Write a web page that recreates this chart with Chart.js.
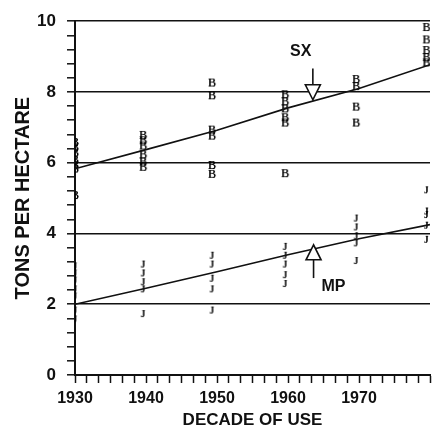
<!DOCTYPE html>
<html>
<head>
<meta charset="utf-8">
<script src="https://cdn.jsdelivr.net/npm/chart.js@4/dist/chart.umd.min.js"></script>
<style>
  html, body { margin: 0; padding: 0; background: #fff; overflow: hidden; }
</style>
</head>
<body>
<canvas id="chart" width="436" height="429"></canvas>
<script>
// SX observations (plotted as "B")
const sxYears  = [1930, 1930, 1930, 1930, 1930, 1930, 1930,
                  1939.6, 1939.6, 1939.6, 1939.6, 1939.6, 1939.6,
                  1949.3, 1949.3, 1949.3, 1949.3, 1949.3, 1949.3,
                  1959.6, 1959.6, 1959.6, 1959.6, 1959.6, 1959.6,
                  1969.6, 1969.6, 1969.6, 1969.6,
                  1979.5, 1979.5, 1979.5, 1979.5, 1979.5];
const sxValues = [6.6, 6.45, 6.3, 6.1, 5.95, 5.85, 5.1,
                  6.8, 6.65, 6.5, 6.25, 6.05, 5.9,
                  8.28, 7.92, 6.95, 6.78, 5.95, 5.7,
                  7.95, 7.75, 7.55, 7.3, 7.15, 5.72,
                  8.38, 8.18, 7.6, 7.15,
                  9.85, 9.5, 9.2, 9.0, 8.85];

// MP observations (plotted as "J")
const mpYears  = [1930, 1930, 1930, 1930, 1930, 1930, 1930,
                  1939.6, 1939.6, 1939.6, 1939.6, 1939.6,
                  1949.3, 1949.3, 1949.3, 1949.3, 1949.3,
                  1959.6, 1959.6, 1959.6, 1959.6, 1959.6,
                  1969.6, 1969.6, 1969.6, 1969.6, 1969.6,
                  1979.5, 1979.5, 1979.5, 1979.5, 1979.5];
const mpValues = [3.1, 2.9, 2.7, 2.45, 2.25, 1.85, 1.6,
                  3.15, 2.9, 2.65, 2.45, 1.75,
                  3.4, 3.15, 2.75, 2.45, 1.85,
                  3.65, 3.4, 3.15, 2.85, 2.6,
                  4.45, 4.2, 3.95, 3.75, 3.25,
                  5.25, 4.65, 4.55, 4.25, 3.85];

// fitted trend lines
const trendYears = [1930, 1940, 1950, 1960, 1970, 1980];
const sxTrend    = [5.83, 6.37, 6.92, 7.55, 8.1, 8.77];
const mpTrend    = [2.0, 2.45, 2.92, 3.4, 3.85, 4.25];

// arrow annotations
const arrowLabels = ["SX", "MP"];
const arrowYears  = [1963.5, 1963.6];
const arrowTips   = [7.78, 3.68];
const arrowTails  = [8.66, 2.74];
const labelYears  = [1961.8, 1966.4];
const labelValues = [9.13, 2.49];

const decadeLabels = [1930, 1940, 1950, 1960, 1970];
const evenLines = [0, 2, 4, 6, 8, 10];

// letter markers
function letterMarker(ch, font, w, h) {
    const c = document.createElement("canvas");
    c.width = w;
    c.height = h;
    const g = c.getContext("2d");
    g.fillStyle = "#000";
    g.font = font;
    g.textAlign = "center";
    g.textBaseline = "middle";
    g.fillText(ch, w / 2, h / 2 + 1);
    g.fillText(ch, w / 2, h / 2 + 1);
    return c;
}
const markB = letterMarker("B", '12px "Liberation Serif"', 10, 13);
const markJ = letterMarker("J", '11px "Liberation Serif"', 7, 12);

const toPoints = (xs, ys) => xs.map((x, i) => ({ x: x, y: ys[i] }));

// draws the SX / MP arrows and their labels
const arrowPlugin = {
    id: "arrows",
    afterDatasetsDraw(chart) {
        const { ctx, scales: { x, y } } = chart;
        ctx.save();
        ctx.strokeStyle = "#111";
        ctx.lineWidth = 1.6;
        arrowLabels.forEach((lab, i) => {
            const px = x.getPixelForValue(arrowYears[i]);
            const tip = y.getPixelForValue(arrowTips[i]);
            const tail = y.getPixelForValue(arrowTails[i]);
            const dir = tail < tip ? -1 : 1;
            const base = tip + dir * 15;
            ctx.beginPath();
            ctx.moveTo(px, tail);
            ctx.lineTo(px, base);
            ctx.stroke();
            ctx.beginPath();
            ctx.moveTo(px, tip);
            ctx.lineTo(px - 7.5, base);
            ctx.lineTo(px + 7.5, base);
            ctx.closePath();
            ctx.fillStyle = "#fff";
            ctx.fill();
            ctx.stroke();

            ctx.fillStyle = "#111";
            ctx.font = 'bold 16px "Liberation Sans", Arial, sans-serif';
            ctx.textAlign = "center";
            ctx.textBaseline = "middle";
            ctx.fillText(lab, x.getPixelForValue(labelYears[i]), y.getPixelForValue(labelValues[i]));
        });
        ctx.restore();
    }
};

const isEven = v => evenLines.some(e => Math.abs(e - v) < 1e-6);
const isDecade = v => decadeLabels.some(d => Math.abs(d - v) < 1e-6);

new Chart(document.getElementById("chart"), {
    type: "scatter",
    data: {
        datasets: [
            {
                type: "line",
                data: toPoints(trendYears, sxTrend),
                borderColor: "#111",
                borderWidth: 1.6,
                pointRadius: 0,
                fill: false
            },
            {
                type: "line",
                data: toPoints(trendYears, mpTrend),
                borderColor: "#111",
                borderWidth: 1.6,
                pointRadius: 0,
                fill: false
            },
            {
                data: toPoints(sxYears, sxValues),
                pointStyle: markB,
                pointRadius: 5
            },
            {
                data: toPoints(mpYears, mpValues),
                pointStyle: markJ,
                pointRadius: 5
            }
        ]
    },
    options: {
        responsive: false,
        animation: false,
        layout: { padding: { top: 18, right: 0, left: 0, bottom: 0 } },
        plugins: { legend: { display: false }, tooltip: { enabled: false } },
        scales: {
            x: {
                type: "linear",
                min: 1930,
                max: 1980,
                afterBuildTicks(scale) {
                    const t = [];
                    for (let k = 0; k <= 30; k++) t.push({ value: 1930 + k * 10 / 6 });
                    scale.ticks = t;
                },
                afterFit(scale) { scale.height = 54; },
                ticks: {
                    autoSkip: false,
                    maxRotation: 0,
                    padding: 6,
                    color: "#111",
                    font: { family: '"Liberation Sans", Arial, sans-serif', size: 16, weight: "bold" },
                    callback: v => isDecade(v) ? String(Math.round(v)) : ""
                },
                grid: {
                    drawOnChartArea: false,
                    tickLength: 8,
                    tickColor: "#111",
                    tickWidth: 1.5
                },
                border: { color: "#111", width: 2 },
                title: {
                    display: true,
                    text: "DECADE OF USE",
                    color: "#111",
                    padding: { top: 0, bottom: 0 },
                    font: { family: '"Liberation Sans", Arial, sans-serif', size: 17, weight: "bold", lineHeight: 1 }
                }
            },
            y: {
                min: 0,
                max: 10,
                afterFit(scale) { scale.width = 75; },
                ticks: {
                    stepSize: 0.4,
                    autoSkip: false,
                    padding: 11,
                    color: "#111",
                    font: { family: '"Liberation Sans", Arial, sans-serif', size: 17, weight: "bold" },
                    callback: v => isEven(v) ? String(Math.round(v)) : ""
                },
                grid: {
                    color: c => (c.tick && isEven(c.tick.value)) ? "#111" : "rgba(0,0,0,0)",
                    lineWidth: 1.6,
                    tickLength: 8,
                    tickColor: "#111",
                    tickWidth: 1.5
                },
                border: { color: "#111", width: 2 },
                title: {
                    display: true,
                    text: "TONS PER HECTARE",
                    color: "#111",
                    padding: { top: 13, bottom: 0 },
                    font: { family: '"Liberation Sans", Arial, sans-serif', size: 20, weight: "bold", lineHeight: 1 }
                }
            }
        }
    },
    plugins: [arrowPlugin]
});
</script>
</body>
</html>
